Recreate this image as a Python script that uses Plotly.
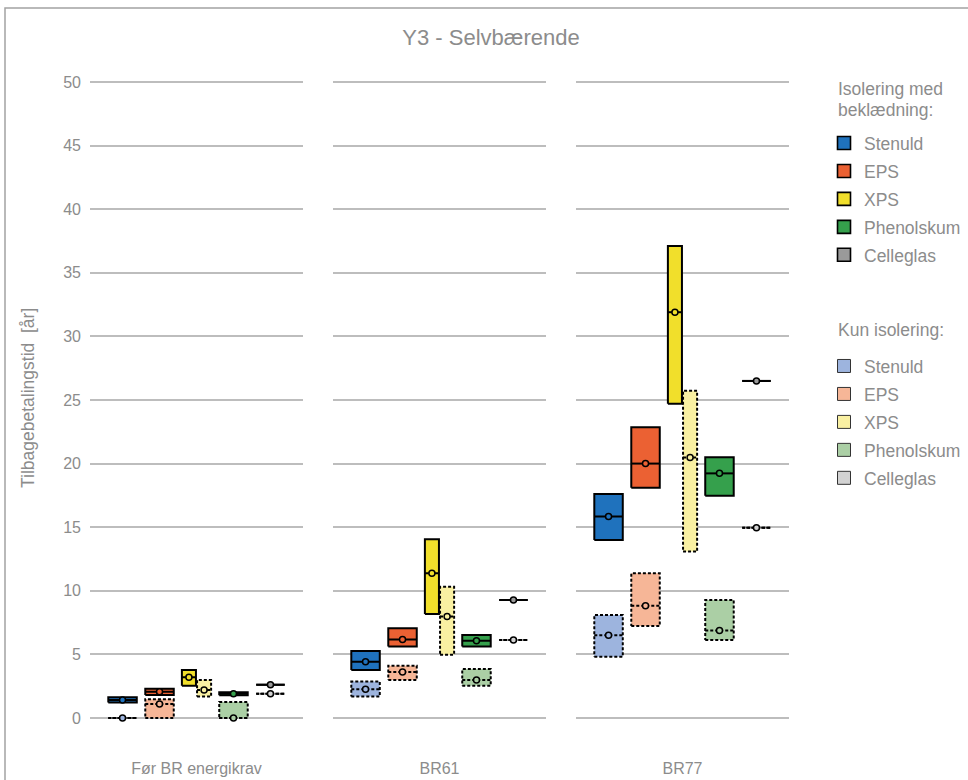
import plotly.graph_objects as go
from plotly.subplots import make_subplots

# ---------------- data ----------------
panels = ["Før BR energikrav", "BR61", "BR77"]
materials = ["Stenuld", "EPS", "XPS", "Phenolskum", "Celleglas"]
group_titles = ["Isolering med<br>beklædning:", "Kun isolering:"]

# Isolering med beklædning: [panel1, panel2, panel3] per material
bekl_low = [[1.21, 3.77, 13.99], [1.81, 5.61, 18.10], [2.54, 8.18, 24.70], [1.78, 5.61, 17.48], [2.62, 9.28, 26.50]]
bekl_med = [[1.42, 4.43, 15.83], [2.07, 6.16, 20.00], [3.20, 11.37, 31.90], [1.91, 6.08, 19.23], [2.62, 9.28, 26.50]]
bekl_high = [[1.63, 5.27, 17.61], [2.30, 7.05, 22.85], [3.77, 14.05, 37.10], [2.02, 6.53, 20.50], [2.62, 9.28, 26.50]]

# Kun isolering
kun_low = [[0.00, 1.68, 4.82], [0.00, 2.99, 7.23], [1.68, 4.98, 13.08], [0.00, 2.54, 6.13], [1.91, 6.13, 14.96]]
kun_med = [[0.00, 2.25, 6.50], [1.10, 3.62, 8.83], [2.20, 7.97, 20.47], [0.00, 2.99, 6.87], [1.91, 6.13, 14.96]]
kun_high = [[0.00, 2.86, 8.10], [1.47, 4.11, 11.37], [2.99, 10.32, 25.73], [1.26, 3.85, 9.28], [1.91, 6.13, 14.96]]

y_ticks = [0, 5, 10, 15, 20, 25, 30, 35, 40, 45, 50]

# ---------------- style ----------------
col_bekl = ["#1f72bd", "#eb6133", "#f1df2b", "#35a04c", "#9a9a9a"]
col_kun = ["#9db4de", "#f6b697", "#f9f0a2", "#abcfa5", "#d2d2d2"]
TXT = "#8c8c8c"
FONT = "Liberation Sans, Arial, sans-serif"
GRID = "#bdbdbd"

group_pos = [-2, -1, 0, 1, 2]
half_w = 0.385
xps_idx = 2
xps_half = 0.19
xps_shift = 0.205
DOT = "3px,2px"

x_domains = [[90 / 968, 303 / 968], [333 / 968, 546 / 968], [576 / 968, 789 / 968]]
y_domain = [0.0632, 0.9112]

fig = make_subplots(rows=1, cols=3, shared_yaxes=True)


def add_box(p, m, lo, med, hi, color, dashed, group):
    c = group_pos[m]
    w = half_w
    if m == xps_idx:
        c = c + (xps_shift if dashed else -xps_shift)
        w = xps_half
    dash = DOT if dashed else "solid"
    xs = [c - w, c + w, c + w, c - w, c - w, None, c - w, c + w]
    ys = [lo, lo, hi, hi, lo, None, med, med]
    fig.add_trace(
        go.Scatter(
            x=xs, y=ys, mode="lines", fill="toself", fillcolor=color,
            line=dict(color="black", width=2, dash=dash),
            legendgroup=group, showlegend=False, hoverinfo="skip",
        ),
        row=1, col=p + 1,
    )
    fig.add_trace(
        go.Scatter(
            x=[c], y=[med], mode="markers",
            marker=dict(symbol="circle", size=6, color=color, line=dict(color="black", width=1.5)),
            legendgroup=group, showlegend=False, hovertemplate="%{y:.1f}<extra></extra>",
        ),
        row=1, col=p + 1,
    )


for p in range(len(panels)):
    for m in range(len(materials)):
        add_box(p, m, kun_low[m][p], kun_med[m][p], kun_high[m][p], col_kun[m], True, "kun_" + materials[m])
    for m in range(len(materials)):
        add_box(p, m, bekl_low[m][p], bekl_med[m][p], bekl_high[m][p], col_bekl[m], False, "bekl_" + materials[m])

# legend entries
for m, name in enumerate(materials):
    fig.add_trace(go.Scatter(
        x=[None], y=[None], mode="markers", name="<span style='font-size:17.5px'>%s</span>" % name,
        marker=dict(symbol="square", size=13, color=col_bekl[m], line=dict(color="black", width=1.6)),
        legendgroup="bekl_" + name, legend="legend", showlegend=True,
    ), row=1, col=3)
for m, name in enumerate(materials):
    fig.add_trace(go.Scatter(
        x=[None], y=[None], mode="markers", name="<span style='font-size:17.5px'>%s</span>" % name,
        marker=dict(symbol="square", size=13, color=col_kun[m], line=dict(color="#333333", width=1)),
        legendgroup="kun_" + name, legend="legend2", showlegend=True,
    ), row=1, col=3)

for i in range(3):
    key = "xaxis" if i == 0 else "xaxis%d" % (i + 1)
    fig.update_layout({key: dict(
        domain=x_domains[i], range=[-2.88, 2.88], showgrid=False, zeroline=False, showline=False,
        tickvals=[0], ticktext=[panels[i]], ticks="", tickfont=dict(size=16, color=TXT, family=FONT),
        ticklabelstandoff=26, fixedrange=True,
    )})
    ykey = "yaxis" if i == 0 else "yaxis%d" % (i + 1)
    fig.update_layout({ykey: dict(
        domain=y_domain, range=[-1, 51], tickvals=y_ticks, showgrid=True, gridcolor=GRID, gridwidth=2,
        zeroline=False, showline=False, ticks="", showticklabels=(i == 0),
        tickfont=dict(size=16, color=TXT, family=FONT), ticklabelstandoff=8, fixedrange=True,
    )})

legend_common = dict(
    xanchor="left", yanchor="top", x=824 / 968, tracegroupgap=0,
    font=dict(size=19.2, color=TXT, family=FONT), bgcolor="rgba(0,0,0,0)",
)

fig.update_layout(
    width=968, height=780, autosize=False,
    margin=dict(l=0, r=0, t=0, b=0),
    paper_bgcolor="white", plot_bgcolor="white",
    font=dict(family=FONT, color=TXT),
    title=dict(text="Y3 - Selvbærende", x=491 / 968, xanchor="center", xref="paper",
               y=1 - 37 / 780, yanchor="middle", font=dict(size=22, color=TXT, family=FONT)),
    legend=dict(legend_common, y=1 - 124 / 780),
    legend2=dict(legend_common, y=1 - 347 / 780),
    annotations=[
        dict(
            text="Tilbagebetalingstid  [år]", xref="paper", yref="paper",
            x=28 / 968, y=(780 - 398) / 780, textangle=-90, showarrow=False,
            font=dict(size=17.5, color=TXT, family=FONT), xanchor="center", yanchor="middle",
        ),
        dict(
            text="<span style='font-size:17.5px'>%s</span>" % group_titles[0].replace("<br>", "</span><br><span style='font-size:17.5px'>"),
            xref="paper", yref="paper", x=836 / 968, y=1 - 99.5 / 780, showarrow=False, align="left",
            font=dict(size=16.2, color=TXT, family=FONT), xanchor="left", yanchor="middle",
        ),
        dict(
            text=group_titles[1], xref="paper", yref="paper", x=836 / 968, y=1 - 330 / 780,
            showarrow=False, align="left",
            font=dict(size=17.5, color=TXT, family=FONT), xanchor="left", yanchor="middle",
        ),
    ],
    shapes=[dict(
        type="rect", xref="paper", yref="paper", x0=5 / 968, x1=1.2, y0=-0.2, y1=1 - 8 / 780,
        line=dict(color="#a3a3a3", width=1.5), fillcolor="rgba(0,0,0,0)", layer="below",
    )],
)

fig.write_html("out.html", config={"displayModeBar": False},
               post_script="document.body.style.margin='0';")
